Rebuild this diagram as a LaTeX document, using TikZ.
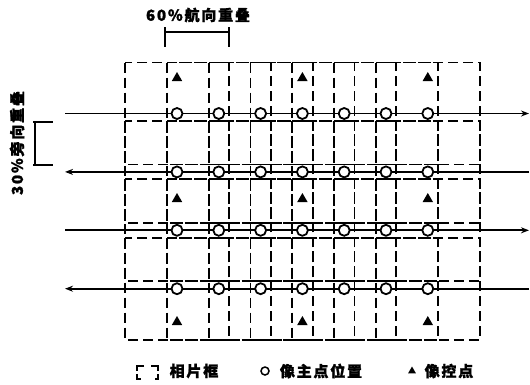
\documentclass[tikz,border=0pt]{standalone}
\usepackage{fontspec}
\setmainfont{Noto Sans CJK SC}[LetterSpace=12,BoldFeatures={FakeBold=1.5}]
\usetikzlibrary{arrows.meta,shapes.geometric}
\begin{document}
\begin{tikzpicture}[x=1pt,y=-1pt,
  frame/.style={draw=black,line width=1.8pt,dash pattern=on 10pt off 5pt},
  flight/.style={draw=black,line width=1.8pt},
  ppoint/.style={circle,draw=black,fill=white,line width=1.8pt,minimum size=11pt,inner sep=0pt},
  gcp/.style={regular polygon,regular polygon sides=3,fill=black,minimum size=12pt,inner sep=0pt},
  lbl/.style={font=\fontsize{15}{15}\selectfont\bfseries,inner sep=0pt},
  brk/.style={draw=black,line width=2pt},
  tip/.style={-{Stealth[length=8pt,width=6pt]}}
]
\useasboundingbox (0,0) rectangle (530,384);
% photo frames
\foreach \j in {0,1,2,3}{
  \foreach \i in {0,...,6}{
    \pgfmathsetmacro{\cx}{177+41.8*\i}
    \pgfmathsetmacro{\cy}{113.5+58.4*\j}
    \draw[frame] (\cx-52,\cy-51) rectangle (\cx+52,\cy+51);
  }
}
% flight lines
\foreach \j in {0,1,2,3}{
  \pgfmathsetmacro{\cy}{113.5+58.4*\j}
  \coordinate (L\j) at (65,\cy);
  \coordinate (R\j) at (529,\cy);
}
\draw[flight,tip] (L0) -- (R0);
\draw[flight,tip] (R1) -- (L1);
\draw[flight,tip] (L2) -- (R2);
\draw[flight,tip] (R3) -- (L3);
% principal points
\foreach \j in {0,1,2,3}{
  \foreach \i in {0,...,6}{
    \pgfmathsetmacro{\cx}{177+41.8*\i}
    \pgfmathsetmacro{\cy}{113.5+58.4*\j}
    \node[ppoint] (p\j\i) at (\cx,\cy) {};
  }
}
% ground control points
\foreach \y [count=\k] in {78,199,322}{
  \foreach \x [count=\m] in {177,302.4,427.8}{
    \node[gcp] (g\k\m) at (\x,\y) {};
  }
}
% forward overlap label
\node[lbl] (fwd) at (198,15) {60\%航向重叠};
\coordinate (fa) at (165,27); \coordinate (fb) at (165,47);
\coordinate (fc) at (229,27); \coordinate (fd) at (229,47);
\draw[black,line width=1.4pt] (fa) -- (fb) (fc) -- (fd);
\draw[black,line width=1.2pt] (165,32) -- (229,32);
% side overlap label
\node[lbl,rotate=90] (side) at (17,143) {30\%旁向重叠};
\coordinate (sa) at (33,122); \coordinate (sb) at (53,122);
\coordinate (sc) at (33,165); \coordinate (sd) at (53,165);
\draw[brk] (sa) -- (sb) (sc) -- (sd);
\draw[black,line width=1.4pt] (35,122) -- (35,165);
% legend
\draw[black,line width=1.6pt] (144,366) -- (137,366) -- (137,371) (137,374) -- (137,379) -- (141,379);
\draw[black,line width=1.6pt] (151,366) -- (158,366) -- (158,371) (158,374) -- (158,379) -- (155,379);
\node[lbl] (t1) at (194,371) {相片框};
\node[circle,draw=black,line width=1.5pt,minimum size=8pt,inner sep=0pt] (lc) at (265,371) {};
\node[lbl] (t2) at (321,371) {像主点位置};
\node[gcp,minimum size=9pt] (lt) at (412,371) {};
\node[lbl] (t3) at (449,371) {像控点};
\end{tikzpicture}
\end{document}
